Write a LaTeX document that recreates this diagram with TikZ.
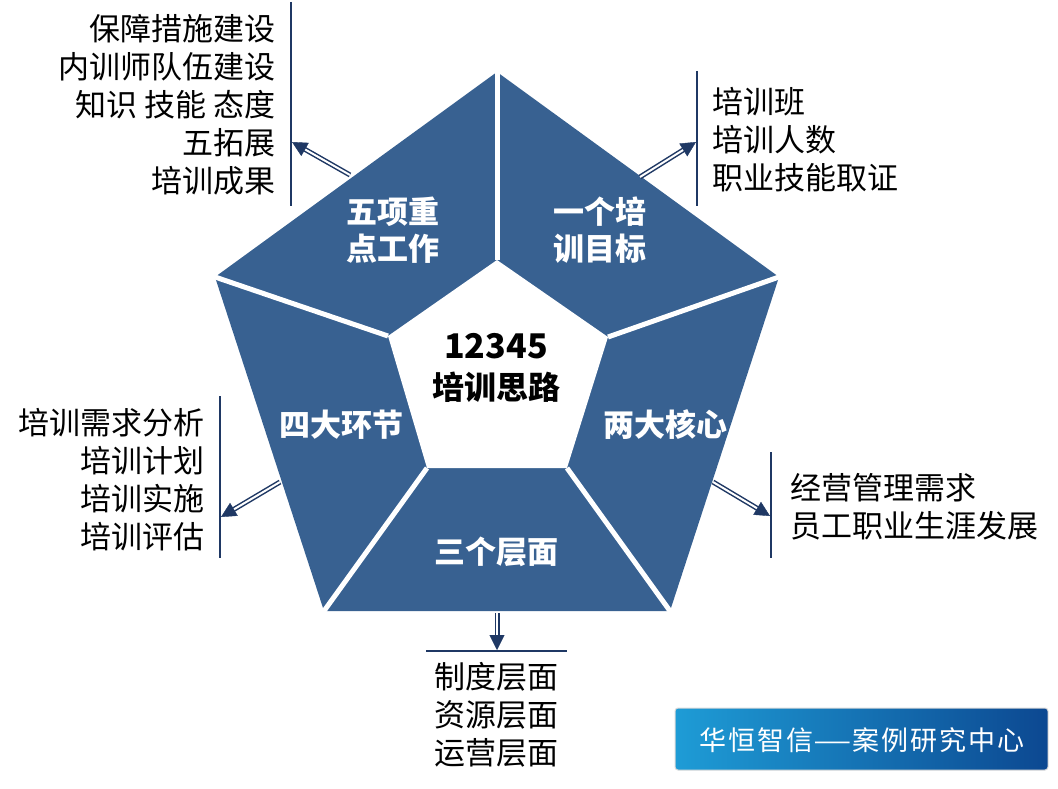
\documentclass[tikz,border=0pt]{standalone}
\usepackage{fontspec}
\setmainfont{Noto Sans CJK SC}
\usetikzlibrary{arrows.meta,calc}
\definecolor{segblue}{RGB}{56,97,145}
\definecolor{navy}{RGB}{31,56,100}
\definecolor{logoL}{RGB}{30,156,214}
\definecolor{logoR}{RGB}{12,72,145}
\begin{document}
\begin{tikzpicture}[x=1pt,y=-1pt,
  listtext/.style={font=\fontsize{31}{38}\selectfont, inner sep=0pt, text=black},
  segtext/.style={font=\fontsize{31}{37}\selectfont\bfseries, text=white, inner sep=0pt, align=center},
  centertext/.style={font=\fontsize{33}{40}\selectfont\bfseries, text=black, inner sep=0pt},
  sepline/.style={draw=white, line width=5pt},
  barline/.style={draw=navy, line width=2pt},
  dshaft/.style={draw=navy, double=white, double distance=2pt, line width=1.5pt},
  tiphead/.style={draw=navy, line width=0.4pt, -{Triangle[length=15pt,width=15pt]}}
]
\useasboundingbox (0,0) rectangle (1058,789);

% pentagon vertices
\coordinate (O1) at (497,72);
\coordinate (O2) at (779,277);
\coordinate (O3) at (670,611);
\coordinate (O4) at (324,611);
\coordinate (O5) at (215,277);
\coordinate (I1) at (497,260);
\coordinate (I2) at (608,337);
\coordinate (I3) at (567,468);
\coordinate (I4) at (427,468);
\coordinate (I5) at (388,336);

\fill[segblue] (O1)--(O2)--(O3)--(O4)--(O5)--cycle;
\fill[white] (I1)--(I2)--(I3)--(I4)--(I5)--cycle;
\foreach \k in {1,...,5}{
  \draw[sepline] (I\k) -- ($(I\k)!1.06!(O\k)$);
}

% segment labels
\node[segtext] (s5) at (393,230) {五项重\\点工作};
\node[segtext] (s1) at (600,230) {一个培\\训目标};
\node[segtext] (s2) at (665,425) {两大核心};
\node[segtext] (s4) at (341,425) {四大环节};
\node[segtext] (s3) at (496,552) {三个层面};
\node[centertext, font=\fontsize{34}{40}\selectfont\bfseries] (c1) at (496,346) {12345};
\node[centertext, font=\fontsize{32}{40}\selectfont\bfseries] (c2) at (496,387) {培训思路};

% lists
\node[listtext, align=right, anchor=east] (tl) at (276,105) {保障措施建设\\内训师队伍建设\\知识 技能 态度\\五拓展\\培训成果};
\node[listtext, align=left, anchor=west] (tr) at (712,140) {培训班\\培训人数\\职业技能取证};
\node[listtext, align=right, anchor=east] (lf) at (205,480) {培训需求分析\\培训计划\\培训实施\\培训评估};
\node[listtext, align=left, anchor=west] (rt) at (790,507) {经营管理需求\\员工职业生涯发展};
\node[listtext, align=center] (bt) at (496,715) {制度层面\\资源层面\\运营层面};

% bars
\coordinate (tlb1) at (291,2);   \coordinate (tlb2) at (291,206);
\coordinate (trb1) at (697,71);  \coordinate (trb2) at (697,206);
\coordinate (lb1) at (220,396);  \coordinate (lb2) at (220,558);
\coordinate (rb1) at (771,452);  \coordinate (rb2) at (771,558);
\coordinate (bb1) at (426,651);  \coordinate (bb2) at (567,651);
\draw[barline] (tlb1) -- (tlb2);
\draw[barline] (trb1) -- (trb2);
\draw[barline] (lb1) -- (lb2);
\draw[barline] (rb1) -- (rb2);
\draw[barline] (bb1) -- (bb2);

% arrows
\coordinate (a5s) at (350,175); \coordinate (a5e) at (292,142);
\coordinate (a1s) at (640,177); \coordinate (a1e) at (696,142);
\coordinate (a4s) at (280,482); \coordinate (a4e) at (221,517);
\coordinate (a2s) at (713,482); \coordinate (a2e) at (770,516);
\coordinate (a3s) at (497,613); \coordinate (a3e) at (497,650);
\foreach \a in {a5,a1,a4,a2,a3}{
  \draw[dshaft] (\a s) -- ($(\a e)!13pt!(\a s)$);
  \draw[tiphead] ($(\a e)!15pt!(\a s)$) -- (\a e);
}

% logo
\node[draw=gray!30, line width=1pt, rounded corners=3pt, left color=logoL, right color=logoR,
      minimum width=373pt, minimum height=62pt, inner sep=0pt] (logo) at (861.5,739) {};
\node[text=white, inner sep=0pt, font=\fontsize{27}{30}\selectfont\addfontfeature{LetterSpace=8}] (logotext) at (862,740) {华恒智信\scalebox{1.6}[1]{—}案例研究中心};
\end{tikzpicture}
\end{document}
